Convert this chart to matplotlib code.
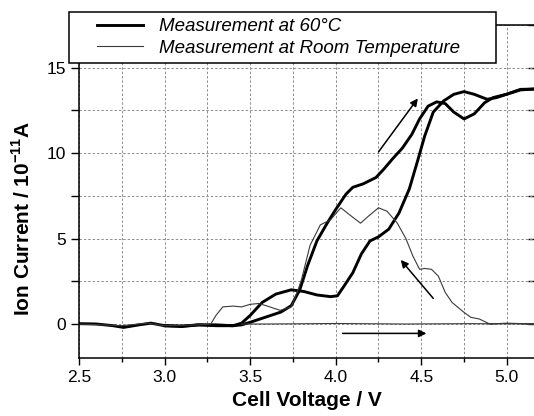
import matplotlib
matplotlib.use("Agg")
import matplotlib.pyplot as plt
from matplotlib.patches import Rectangle
from matplotlib.ticker import MultipleLocator, NullLocator

plt.rcParams['font.family'] = ['Liberation Sans', 'DejaVu Sans']
plt.rcParams['mathtext.fontset'] = 'custom'
plt.rcParams['mathtext.bf'] = 'Liberation Sans:bold'
plt.rcParams['mathtext.rm'] = 'Liberation Sans'

# 60 degC, rising branch (reaches high values first)
v60_up = [2.5, 2.6, 2.7, 2.76, 2.85, 2.92, 3.0, 3.1, 3.2, 3.3, 3.4, 3.45, 3.5,
          3.59, 3.68, 3.74, 3.79, 3.835, 3.89, 3.95, 4.0, 4.06, 4.1, 4.16,
          4.235, 4.28, 4.33, 4.39, 4.445, 4.49, 4.54, 4.59, 4.64, 4.69, 4.75,
          4.81, 4.87, 4.92, 5.0, 5.08, 5.16]
i60_up = [0.02, 0.0, -0.1, -0.2, -0.05, 0.05, -0.1, -0.12, -0.05, -0.05, -0.1,
          -0.05, 0.1, 0.4, 0.7, 1.07, 2.0, 3.4, 4.86, 5.9, 6.7, 7.6, 8.0, 8.2,
          8.57, 9.05, 9.64, 10.3, 11.1, 12.0, 12.75, 13.0, 12.9, 12.4, 12.0,
          12.3, 12.95, 13.25, 13.45, 13.7, 13.75]

# 60 degC, return branch (plateau near 2, steep rise after 4.0 V)
v60_down = [5.16, 5.08, 5.0, 4.94, 4.885, 4.81, 4.75, 4.69, 4.63, 4.57, 4.52,
            4.48, 4.43, 4.37, 4.31, 4.25, 4.2, 4.15, 4.1, 4.05, 4.01, 3.97,
            3.89, 3.815, 3.74, 3.65, 3.57, 3.5, 3.45, 3.4, 3.3, 3.2, 3.1, 3.0]
i60_down = [13.75, 13.73, 13.45, 13.25, 13.15, 13.44, 13.6, 13.44, 13.05, 12.4,
            11.0, 9.6, 7.9, 6.5, 5.55, 5.1, 4.86, 4.1, 3.0, 2.24, 1.65, 1.6,
            1.7, 1.9, 2.0, 1.75, 1.26, 0.5, 0.05, -0.1, -0.1, -0.05, -0.15, -0.1]

# room temperature: forward scan with peaks, return along the baseline
v_rt = [2.5, 2.75, 2.9, 3.0, 3.2, 3.27, 3.3, 3.34, 3.4, 3.45, 3.5, 3.55, 3.6,
        3.675, 3.74, 3.78, 3.8, 3.85, 3.91, 3.97, 4.03, 4.08, 4.145, 4.19, 4.25,
        4.3, 4.36, 4.41, 4.45, 4.49, 4.52, 4.56, 4.6, 4.64, 4.68, 4.75, 4.79,
        4.84, 4.9, 5.0, 5.16, 4.8, 4.4, 4.0, 3.6, 3.45]
i_rt = [0.0, -0.1, 0.05, -0.1, -0.05, 0.0, 0.5, 1.0, 1.05, 1.0, 1.15, 1.2, 1.05,
        0.8, 1.0, 2.0, 2.6, 4.6, 5.8, 6.1, 6.8, 6.4, 5.9, 6.3, 6.8, 6.6, 5.9,
        5.0, 4.0, 3.2, 3.25, 3.2, 2.8, 1.85, 1.26, 0.68, 0.39, 0.29, 0.0, 0.05,
        0.0, 0.02, 0.0, 0.03, 0.0, 0.0]

# scan-direction arrows: (tail, head)
arrows = [((4.25, 10.07), (4.48, 13.2)),
          ((4.57, 1.5), (4.38, 3.75)),
          ((4.04, -0.55), (4.53, -0.55))]

fig = plt.figure(figsize=(5.34, 4.16), dpi=100)
ax = fig.add_axes([0.148, 0.139, 0.854, 0.801])

ax.plot(v60_up, i60_up, color='black', lw=2.1, label='Measurement at 60°C')
ax.plot(v60_down, i60_down, color='black', lw=2.1)
ax.plot(v_rt, i_rt, color='#3a3a3a', lw=0.8,
        label='Measurement at Room Temperature')

for tail, head in arrows:
    ax.annotate('', xy=head, xytext=tail,
                arrowprops=dict(arrowstyle='-|>', color='black', lw=1.1,
                                mutation_scale=11, shrinkA=0, shrinkB=0))

ax.set_xlim(2.5, 5.165)
ax.set_ylim(-2, 17.5)
ax.xaxis.set_major_locator(MultipleLocator(0.5))
ax.xaxis.set_minor_locator(MultipleLocator(0.25))
ax.yaxis.set_major_locator(MultipleLocator(5))
ax.yaxis.set_minor_locator(MultipleLocator(2.5))
ax.set_xticks([2.5, 3.0, 3.5, 4.0, 4.5, 5.0])
ax.set_xticklabels(['2.5', '3.0', '3.5', '4.0', '4.5', '5.0'])
ax.grid(True, which='both', color='#8c8c8c', ls=(0, (2.5, 2)), lw=0.7)
ax.set_axisbelow(True)

ax.tick_params(axis='both', which='both', labelsize=12.5, width=1)
ax.tick_params(axis='x', which='major', direction='out', length=5)
ax.tick_params(axis='x', which='minor', direction='out', length=3)
ax.tick_params(axis='y', which='both', direction='out', length=6)
for spine in ax.spines.values():
    spine.set_linewidth(1.1)

# inward ticks on the right side
sec = ax.secondary_yaxis('right')
sec.yaxis.set_major_locator(MultipleLocator(2.5))
sec.yaxis.set_minor_locator(NullLocator())
sec.tick_params(direction='in', length=5, width=1, labelright=False)

ax.set_xlabel('Cell Voltage / V', fontsize=15, fontweight='bold', labelpad=4)
ax.set_ylabel(r'Ion Current / 10$^{\mathbf{-11}}$A', fontsize=15,
              fontweight='bold')
ax.yaxis.set_label_coords(-0.1, 0.419)

box = Rectangle((0.129, 0.849), 0.8, 0.122, transform=fig.transFigure,
                facecolor='white', edgecolor='black', lw=1.1, zorder=4)
fig.patches.append(box)
leg = fig.legend(loc='center left', bbox_to_anchor=(0.165, 0.91),
                 frameon=False, fontsize=13.5, handlelength=2.45,
                 handletextpad=0.85, labelspacing=0.25, borderpad=0)
leg.set_zorder(5)
for t in leg.get_texts():
    t.set_fontstyle('italic')

fig.savefig('out.png', dpi=100)
